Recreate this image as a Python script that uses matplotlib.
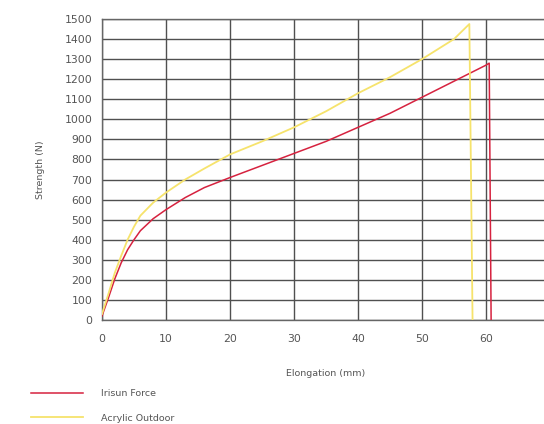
import matplotlib.pyplot as plt

# Кривые растяжения
force_x = [0, 1, 2, 3, 4, 5, 6, 8, 10, 13, 16, 20, 25, 30, 35, 40, 45, 50, 55, 60, 60.5, 60.8]
force_y = [20, 110, 205, 285, 350, 400, 445, 505, 550, 610, 660, 710, 770, 830, 890, 960, 1030, 1110, 1190, 1270, 1280, 0]

acrylic_x = [0, 1, 2, 3, 4, 5, 6, 8, 10, 13, 16, 20, 25, 30, 35, 40, 45, 50, 55, 57.4, 57.9]
acrylic_y = [30, 130, 235, 320, 400, 465, 520, 585, 635, 700, 755, 825, 890, 960, 1040, 1130, 1210, 1300, 1400, 1475, 0]

series_names = ["Irisun Force", "Acrylic Outdoor"]
x_ticks = [0, 10, 20, 30, 40, 50, 60, 70]
y_ticks = list(range(0, 1501, 100))

fig = plt.figure(figsize=(5.44, 4.24), dpi=100)
ax = fig.add_axes([102 / 544, 104 / 424, 448 / 544, 301 / 424])

ax.plot(force_x, force_y, color='#d6223f', lw=1.1, label=series_names[0], zorder=3)
ax.plot(acrylic_x, acrylic_y, color='#f6e36c', lw=1.3, label=series_names[1], zorder=3)

ax.set_xlim(0, 70)
ax.set_ylim(0, 1500)
ax.set_xticks(x_ticks)
ax.set_yticks(y_ticks)
ax.grid(True, color='#505050', lw=1.0)
ax.set_axisbelow(True)
for s in ax.spines.values():
    s.set_color('#666666')
    s.set_linewidth(1.0)
ax.tick_params(length=0, labelsize=7.8, labelcolor='#555555')
ax.tick_params(axis='x', pad=10)
ax.tick_params(axis='y', pad=7)

ax.set_xlabel("Elongation (mm)", fontsize=6.8, color='#555555', labelpad=18)
ax.set_ylabel("Strength (N)", fontsize=6.8, color='#555555', labelpad=14)

fig.legend(loc='upper left', bbox_to_anchor=(22 / 544, 1 - 381 / 424),
           frameon=False, fontsize=6.8, labelcolor='#555555',
           handlelength=5.6, handletextpad=1.9, labelspacing=1.6)

fig.savefig('out.png', dpi=100, facecolor='white')
